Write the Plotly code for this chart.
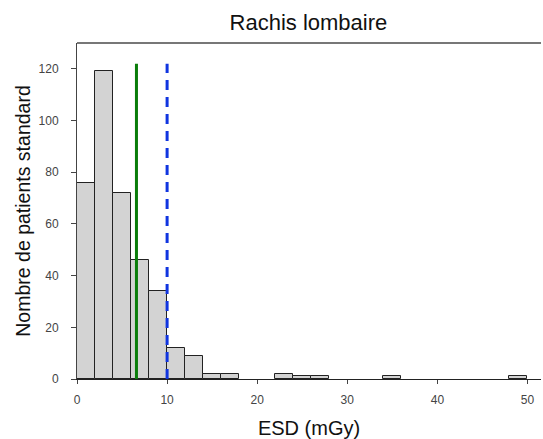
import plotly.graph_objects as go

# Histogram of ESD values (bins of 2 mGy)
bin_left = [0, 2, 4, 6, 8, 10, 12, 14, 16, 22, 24, 26, 34, 48]
counts = [76, 119, 72, 46, 34, 12, 9, 2, 2, 2, 1, 1, 1, 1]
bin_width = 2

median_esd = 6.6      # solid green reference line
ndr_esd = 10.0        # dashed blue reference line
line_top = 122

x_ticks = [0, 10, 20, 30, 40, 50]
y_ticks = [0, 20, 40, 60, 80, 100, 120]

font_family = "Arial, Liberation Sans, sans-serif"

fig = go.Figure()
fig.add_trace(go.Bar(
    x=[b + bin_width / 2 for b in bin_left],
    y=counts,
    width=[bin_width] * len(bin_left),
    marker=dict(color="#d3d3d3", line=dict(color="#222222", width=1)),
    showlegend=False,
    hoverinfo="x+y",
))
fig.add_trace(go.Scatter(
    x=[median_esd, median_esd], y=[0, line_top], mode="lines",
    line=dict(color="#0a7d0a", width=3), showlegend=False,
))
fig.add_trace(go.Scatter(
    x=[ndr_esd, ndr_esd], y=[0, line_top], mode="lines",
    line=dict(color="#1035e0", width=3, dash="10px,7px"), showlegend=False,
))

fig.update_layout(
    width=543, height=439,
    margin=dict(l=77, r=2, t=43, b=60),
    paper_bgcolor="white", plot_bgcolor="white",
    bargap=0,
    font=dict(family=font_family, color="#222"),
    title=dict(text="Rachis lombaire", x=0.568, xanchor="center",
               y=0.95, yanchor="middle",
               font=dict(size=22, family=font_family, color="#111")),
    xaxis=dict(
        range=[0, 51.5], tickvals=x_ticks, ticks="outside", ticklen=4,
        tickcolor="#444", showline=True, linecolor="#222", linewidth=1,
        showgrid=False, zeroline=False, ticklabelstandoff=6,
        tickfont=dict(size=12, color="#444"),
        title=dict(text="ESD (mGy)", font=dict(size=20, color="#111"), standoff=15),
    ),
    yaxis=dict(
        range=[0, 130], tickvals=y_ticks, ticks="outside", ticklen=5,
        tickcolor="#444", showline=True, linecolor="#444", linewidth=1,
        showgrid=False, zeroline=False, ticklabelstandoff=10,
        tickfont=dict(size=12, color="#444"),
        title=dict(text="Nombre de patients standard",
                   font=dict(size=19.5, color="#111"), standoff=2),
    ),
    shapes=[dict(type="line", xref="paper", yref="paper", x0=0, x1=1,
                 y0=1, y1=1, line=dict(color="#777", width=2))],
)

fig.write_html("out.html")
